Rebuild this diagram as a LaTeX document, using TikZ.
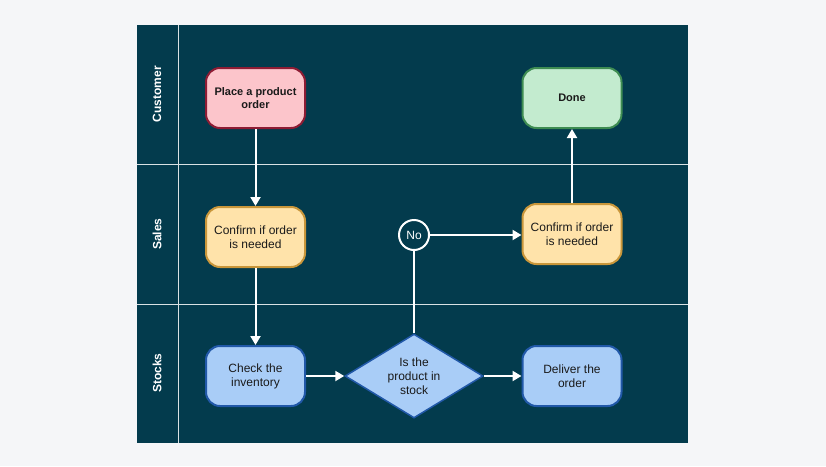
\documentclass[tikz,border=0pt]{standalone}
\usepackage{fontspec}
\setmainfont{Liberation Sans}
\usetikzlibrary{shapes.geometric,arrows.meta}
\definecolor{bgc}{HTML}{F5F6F8}
\definecolor{panel}{HTML}{033B4D}
\definecolor{pinkf}{HTML}{FCC5CB}
\definecolor{pinkd}{HTML}{8E1C34}
\definecolor{greenf}{HTML}{C3EBCF}
\definecolor{greend}{HTML}{3E8C52}
\definecolor{yelf}{HTML}{FFE3AA}
\definecolor{yeld}{HTML}{C9963A}
\definecolor{bluef}{HTML}{A9CDF7}
\definecolor{blued}{HTML}{2158A8}
\definecolor{txt}{HTML}{1A1A1A}
\tikzset{
  box/.style={rectangle, rounded corners=14pt, minimum width=99pt, minimum height=60pt, line width=2pt, align=center, text=txt, font=\fontsize{12}{14}\selectfont, inner sep=2pt},
  pinkbox/.style={box, fill=pinkf, draw=pinkd, font=\fontsize{11}{13}\selectfont\bfseries},
  greenbox/.style={box, fill=greenf, draw=greend, font=\fontsize{11}{13}\selectfont\bfseries},
  yelbox/.style={box, fill=yelf, draw=yeld},
  bluebox/.style={box, fill=bluef, draw=blued},
  dia/.style={diamond, fill=bluef, draw=blued, line width=1.5pt, minimum width=138pt, minimum height=84pt, aspect=1.64, inner sep=0pt, align=center, text=txt, font=\fontsize{12}{14}\selectfont},
  circ/.style={circle, draw=white, line width=2pt, fill=panel, minimum size=30pt, inner sep=0pt, text=white, font=\fontsize{12}{14}\selectfont},
  lane/.style={rotate=90, text=white, font=\fontsize{12}{14}\selectfont\bfseries},
  conn/.style={draw=white, line width=2pt, -{Triangle[length=9pt,width=10pt]}},
  plain/.style={draw=white, line width=2pt},
  sep/.style={draw=white!85!panel, line width=1pt}
}
\begin{document}
\begin{tikzpicture}[x=1pt,y=-1pt]
\fill[bgc] (0,0) rectangle (826,466);
\useasboundingbox (0,0) rectangle (826,466);
\fill[panel] (137,25) rectangle (688,443);
\draw[sep] (178,25) -- (178,443);
\draw[sep] (137,164) -- (688,164);
\draw[sep] (137,304) -- (688,304);
\node[lane] (lc) at (157,94) {Customer};
\node[lane] (ls) at (157,234) {Sales};
\node[lane] (lst) at (157,373) {Stocks};
\node[pinkbox] (place) at (255.5,98) {Place a product\\order};
\node[greenbox] (done) at (572,98) {Done};
\node[yelbox] (conf1) at (255.5,237) {Confirm if order\\is needed};
\node[yelbox] (conf2) at (572,234) {Confirm if order\\is needed};
\node[circ] (no) at (414,235) {No};
\node[bluebox] (check) at (255.5,376) {Check the\\inventory};
\node[dia] (stock) at (414,376) {Is the\\product in\\stock};
\node[bluebox] (deliver) at (572,376) {Deliver the\\order};
\draw[conn] (place) -- (conf1);
\draw[conn] (conf1) -- (check);
\draw[conn] (check) -- (stock);
\draw[conn] (stock) -- (deliver);
\draw[plain] (stock) -- (no);
\draw[conn] (no) -- (conf2.west |- no);
\draw[conn] (conf2) -- (done);
\end{tikzpicture}
\end{document}
